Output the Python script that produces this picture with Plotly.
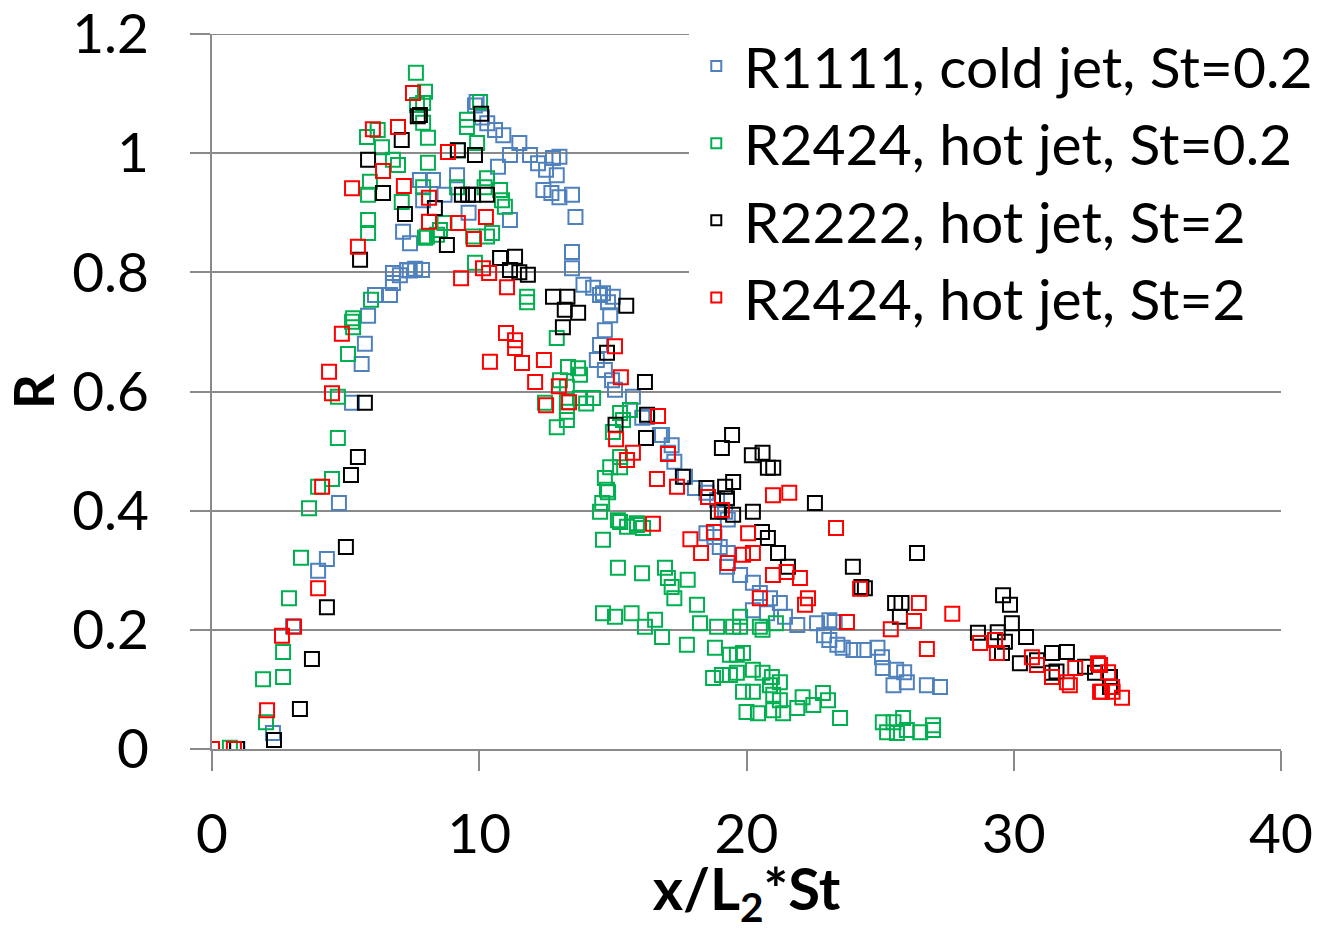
import plotly.graph_objects as go

# R1111, cold jet, St=0.2
blue_x = [0.94, 2.28, 3.03, 3.97, 4.30, 4.75, 5.24, 5.6, 5.72, 5.84, 6.1, 6.66, 6.77, 6.77, 7.03, 7.3, 7.4, 7.6, 7.86,
          7.15, 7.41, 7.78, 7.9, 8.27, 8.7, 9.17, 9.6, 9.9, 9.84, 10.1, 10.3, 10.59, 10.7, 10.9, 11.15, 11.15, 11.5,
          11.9, 12.2, 12.5, 12.76, 12.9, 13.0, 12.4, 12.7, 13.0, 13.47, 13.6, 13.47, 13.47, 13.9, 14.26, 14.52, 14.63,
          14.82, 15.0, 14.9, 14.7, 14.52, 14.4, 14.7, 14.97, 15.08, 15.75, 16.1, 16.28, 16.76, 16.84, 17.06, 17.2,
          17.3, 17.7, 18.07, 18.5, 18.9, 19.2, 19.3, 18.5, 18.8, 19.0, 19.3, 19.27, 19.76, 20.24, 20.5, 20.88, 21.25,
          20.24, 20.77, 21.44, 21.9, 22.64, 23.1, 23.3, 22.9, 23.1, 23.4, 23.6, 24.0, 24.4, 24.9, 25.07, 25.1, 25.6,
          25.9, 25.5, 26.0, 26.75, 27.24]
blue_y = [0.0, 0.027, 0.206, 0.299, 0.319, 0.413, 0.581, 0.646, 0.68, 0.727, 0.762, 0.762, 0.782, 0.799, 0.795, 0.804,
          0.803, 0.806, 0.804, 0.868, 0.849, 0.955, 0.921, 0.955, 0.93, 0.963, 0.90, 1.086, 1.08, 1.06, 1.05, 1.039,
          0.977, 1.03, 0.997, 0.888, 1.017, 0.997, 0.983, 0.972, 0.992, 0.963, 0.994, 0.938, 0.933, 0.926, 0.93,
          0.893, 0.834, 0.807, 0.779, 0.774, 0.762, 0.765, 0.750, 0.759, 0.728, 0.703, 0.678, 0.653, 0.636, 0.619,
          0.603, 0.591, 0.556, 0.557, 0.527, 0.527, 0.497, 0.510, 0.482, 0.457, 0.438, 0.430, 0.418, 0.398, 0.385,
          0.362, 0.356, 0.339, 0.329, 0.306, 0.292, 0.279, 0.262, 0.253, 0.245, 0.233, 0.228, 0.222, 0.208, 0.211,
          0.216, 0.213, 0.191, 0.183, 0.175, 0.170, 0.166, 0.166, 0.170, 0.154, 0.136, 0.133, 0.129, 0.107, 0.112,
          0.107, 0.104]

# R2424, hot jet, St=0.2
green_x = [0.67, 2.02, 1.91, 2.66, 2.66, 2.88, 3.33, 3.63, 4.49, 3.97, 4.71, 4.71, 5.09, 5.28, 5.28, 5.24, 5.95,
           7.63, 7.97, 7.67, 7.9, 7.9, 8.08, 5.8, 6.2, 6.36, 6.77, 6.96, 8.08, 5.91, 5.84, 7.1, 7.9, 5.84, 5.84,
           7.97, 8.42, 10.03, 9.54, 9.54, 9.92, 9.2, 10.29, 10.2, 10.78, 10.85, 10.96, 9.17, 8.7, 8.53, 8.04, 9.77,
           10.29, 10.48, 9.84, 10.78, 11.79, 11.79, 12.9, 13.32, 13.7, 13.77, 13.02, 13.28, 12.46, 13.28, 13.77,
           14.26, 13.28, 14.0, 13.28, 12.9, 15.27, 15.64, 15.38, 15.0, 15.27, 14.9, 15.27, 14.7, 14.82, 14.6, 14.52,
           15.27, 15.9, 14.78, 15.19, 15.53, 15.9, 16.13, 14.63, 15.19, 16.09, 16.95, 17.06, 17.2, 17.3, 17.8, 18.15,
           14.63, 15.08, 15.7, 16.2, 16.58, 16.84, 17.77, 18.26, 18.9, 19.5, 19.76, 19.76, 20.5, 20.6, 21.1, 18.82,
           19.38, 19.64, 19.87, 18.75, 19.08, 19.38, 19.64, 20.24, 20.6, 20.95, 19.87, 20.24, 20.88, 21.25, 21.0,
           21.25, 20.0, 20.43, 21.0, 21.37, 21.9, 22.1, 22.5, 22.86, 23.05, 23.5, 25.1, 25.5, 25.86, 25.26, 25.63,
           26.0, 26.5, 26.98, 26.98]
green_y = [0.002, 0.045, 0.117, 0.121, 0.163, 0.253, 0.321, 0.404, 0.453, 0.44, 0.522, 0.591, 0.663, 0.708, 0.723,
           0.717, 0.754, 1.135, 1.103, 1.081, 1.084, 1.051, 1.026, 1.027, 1.039, 1.010, 0.989, 0.980, 0.984, 0.952,
           0.930, 0.918, 0.943, 0.888, 0.866, 0.858, 0.863, 1.086, 1.056, 1.044, 1.017, 1.005, 0.958, 0.943, 0.938,
           0.921, 0.91, 0.943, 0.883, 0.871, 0.86, 0.86, 0.86, 0.866, 0.816, 0.824, 0.759, 0.75, 0.69, 0.641, 0.639,
           0.628, 0.619, 0.608, 0.581, 0.582, 0.589, 0.589, 0.566, 0.58, 0.552, 0.540, 0.564, 0.569, 0.552, 0.532,
           0.49, 0.473, 0.473, 0.455, 0.431, 0.413, 0.398, 0.381, 0.379, 0.435, 0.384, 0.373, 0.376, 0.371, 0.351,
           0.304, 0.295, 0.304, 0.287, 0.272, 0.253, 0.284, 0.242, 0.228, 0.222, 0.228, 0.205, 0.217, 0.188, 0.175,
           0.211, 0.205, 0.205, 0.205, 0.222, 0.205, 0.2, 0.211, 0.17, 0.158, 0.158, 0.161, 0.119, 0.124, 0.124,
           0.128, 0.133, 0.128, 0.121, 0.096, 0.096, 0.107, 0.112, 0.091, 0.082, 0.062, 0.06, 0.065, 0.06, 0.069,
           0.087, 0.074, 0.094, 0.082, 0.052, 0.045, 0.045, 0.052, 0.028, 0.027, 0.032, 0.028, 0.040, 0.032]

# R2222, hot jet, St=2
black_x = [0.94, 2.32, 3.29, 3.74, 4.3, 5.01, 5.2, 5.46, 5.72, 5.54, 7.22, 6.4, 5.84, 7.1, 7.7, 7.78, 10.07, 9.2,
           9.84, 9.35, 9.58, 9.77, 10.29, 8.34, 8.79, 11.34, 10.78, 11.5, 11.82, 11.15, 12.76, 13.3, 13.2, 13.7,
           13.13, 15.5, 14.78, 16.2, 15.1, 16.28, 16.24, 19.46, 19.08, 20.2, 20.6, 20.8, 21.0, 17.62, 18.5, 19.2,
           19.5, 19.27, 18.93, 19.5, 20.24, 22.56, 20.58, 20.8, 21.18, 21.55, 23.98, 26.38, 24.3, 24.43, 25.56,
           25.8, 25.74, 29.6, 29.86, 29.93, 28.66, 29.4, 29.67, 30.46, 29.56, 30.23, 30.87, 31.43, 31.99, 31.43,
           31.6, 32.67, 33.04, 33.6, 33.6]
black_y = [0.0, 0.015, 0.067, 0.151, 0.238, 0.339, 0.46, 0.49, 0.581, 0.821, 0.898, 0.933, 0.989, 1.022, 1.062,
           1.064, 1.066, 1.005, 0.997, 0.93, 0.93, 0.93, 0.93, 0.908, 0.846, 0.826, 0.824, 0.80, 0.796, 0.804,
           0.759, 0.759, 0.737, 0.732, 0.708, 0.744, 0.665, 0.616, 0.544, 0.561, 0.522, 0.527, 0.505, 0.493, 0.497,
           0.472, 0.472, 0.457, 0.438, 0.44, 0.448, 0.421, 0.398, 0.393, 0.398, 0.413, 0.364, 0.354, 0.329, 0.306,
           0.306, 0.329, 0.272, 0.27, 0.245, 0.245, 0.222, 0.258, 0.242, 0.211, 0.195, 0.196, 0.18, 0.188, 0.161,
           0.144, 0.149, 0.161, 0.163, 0.128, 0.13, 0.138, 0.128, 0.121, 0.104]

# R2424, hot jet, St=2
red_x = [0.0, 0.82, 2.06, 2.62, 3.07, 3.97, 4.12, 4.49, 4.38, 4.86, 5.46, 5.24, 6.4, 6.02, 6.96, 7.52, 7.18, 8.12,
         8.12, 8.83, 9.2, 10.25, 9.8, 10.14, 10.37, 9.32, 11.04, 11.0, 11.34, 11.34, 10.4, 11.6, 12.42, 12.09, 12.98,
         12.5, 13.36, 15.08, 15.3, 16.69, 15.12, 15.75, 15.53, 16.65, 17.06, 17.4, 16.5, 17.9, 18.3, 18.56, 19.08,
         18.78, 20.06, 19.3, 19.87, 20.24, 20.99, 21.6, 20.99, 21.5, 22.0, 20.5, 22.3, 22.19, 23.35, 23.76, 24.25,
         25.4, 26.27, 26.45, 27.7, 26.75, 28.74, 29.3, 29.37, 30.68, 30.87, 31.43, 31.99, 32.1, 32.3, 33.15, 33.23,
         33.23, 33.53, 33.3, 33.68, 33.7, 34.05]
red_y = [0.0, 0.0, 0.065, 0.19, 0.205, 0.27, 0.44, 0.597, 0.633, 0.697, 0.843, 0.941, 0.97, 1.04, 1.044, 1.101,
         0.945, 0.925, 0.885, 1.002, 0.883, 0.893, 0.856, 0.807, 0.799, 0.79, 0.775, 0.698, 0.686, 0.673, 0.65,
         0.648, 0.653, 0.616, 0.609, 0.577, 0.582, 0.676, 0.624, 0.559, 0.52, 0.497, 0.485, 0.453, 0.495, 0.44,
         0.378, 0.352, 0.329, 0.423, 0.401, 0.364, 0.362, 0.312, 0.326, 0.329, 0.426, 0.43, 0.292, 0.297, 0.287,
         0.253, 0.253, 0.242, 0.371, 0.213, 0.269, 0.201, 0.215, 0.245, 0.227, 0.168, 0.178, 0.183, 0.161, 0.154,
         0.141, 0.121, 0.112, 0.107, 0.136, 0.144, 0.096, 0.141, 0.129, 0.096, 0.104, 0.096, 0.086]

y_ticks = [0, 0.2, 0.4, 0.6, 0.8, 1.0, 1.2]
y_tick_labels = ["0", "0.2", "0.4", "0.6", "0.8", "1", "1.2"]
y_max = 1.2

series = [
    ("R1111, cold jet, St=0.2", "#4F81BD", blue_x, blue_y),
    ("R2424, hot jet, St=0.2", "#00B050", green_x, green_y),
    ("R2222, hot jet, St=2", "#000000", black_x, black_y),
    ("R2424, hot jet, St=2", "#FF0000", red_x, red_y),
]

FONT = "Lato, Carlito, Calibri, sans-serif"
fig = go.Figure()
for name, color, xs, ys in series:
    fig.add_trace(go.Scatter(
        x=xs, y=ys, mode="markers", name=name, showlegend=False,
        marker=dict(symbol="square-open", size=14, color=color, line=dict(width=2, color=color)),
    ))
for name, color, xs, ys in series:
    fig.add_trace(go.Scatter(
        x=[None], y=[None], mode="markers", name=name, showlegend=True,
        marker=dict(symbol="square-open", size=10, color=color, line=dict(width=2, color=color)),
    ))

grid = "#8a8a8a"
# top gridline (plotly omits the gridline at the very edge of the range)
fig.add_shape(type="line", xref="paper", yref="y", x0=-20 / 1069, x1=1, y0=y_max, y1=y_max,
              line=dict(color=grid, width=2), layer="below")

fig.update_layout(
    width=1327, height=931,
    margin=dict(l=212, r=46, t=34, b=182, autoexpand=False),
    paper_bgcolor="white", plot_bgcolor="white",
    font=dict(family=FONT, size=55, color="black"),
    showlegend=True,
    legend=dict(
        x=0.446, y=1.016, xanchor="left", yanchor="top",
        bgcolor="white", borderwidth=0,
        font=dict(family=FONT, size=57, color="black"),
        itemwidth=45, tracegroupgap=0,
    ),
    xaxis=dict(
        range=[0, 40], dtick=10, tick0=0, automargin=False,
        showgrid=False, zeroline=False,
        showline=True, linecolor=grid, linewidth=2,
        ticks="outside", ticklen=20, tickwidth=2, tickcolor=grid,
        ticklabelstandoff=16, ticklabeloverflow="allow",
        tickfont=dict(size=55),
        title=dict(text="<b>x/L<sub>2</sub>*St</b>", font=dict(size=58), standoff=2),
    ),
    yaxis=dict(
        range=[0, y_max], automargin=False,
        tickvals=y_ticks, ticktext=y_tick_labels,
        showgrid=True, gridcolor=grid, gridwidth=2,
        zeroline=False,
        showline=True, linecolor=grid, linewidth=2,
        ticks="outside", ticklen=20, tickwidth=2, tickcolor=grid,
        ticklabelstandoff=30, ticklabeloverflow="allow",
        tickfont=dict(size=55),
        title=dict(text="<b>R</b>", font=dict(size=55), standoff=0),
    ),
)
fig.write_html("out.html")
